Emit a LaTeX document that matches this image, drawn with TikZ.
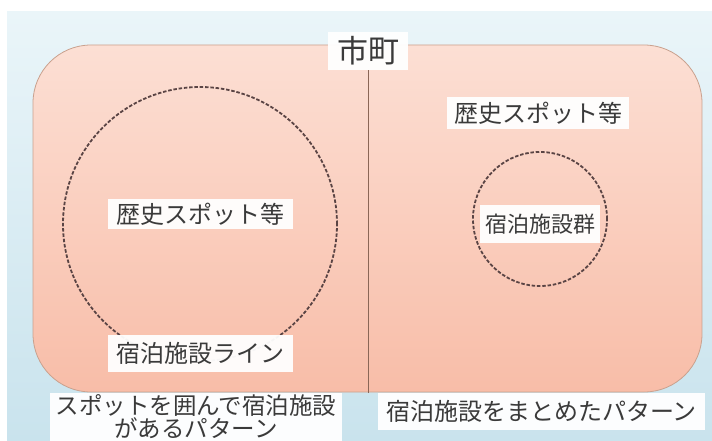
\documentclass[tikz,border=0pt]{standalone}
\usepackage{fontspec}
\newfontfamily\jp{Noto Sans CJK JP}
\definecolor{bgtop}{HTML}{EAF5F9}
\definecolor{bgbot}{HTML}{C9E3ED}
\definecolor{pinktop}{HTML}{FCDFD4}
\definecolor{pinkbot}{HTML}{F8BDA8}
\definecolor{bordercol}{HTML}{C9A18E}
\definecolor{linecol}{HTML}{8A6656}
\definecolor{dashcol}{HTML}{5A4444}
\definecolor{txt}{HTML}{3A3A3A}
\begin{document}
\begin{tikzpicture}[x=1pt,y=-1pt,
  lbl/.style={fill=white, fill opacity=0.95, text opacity=1, inner sep=0pt, text=txt, font=\jp\fontsize{24}{26}\selectfont},
  dashring/.style={draw=dashcol, circle, line width=1.8pt, dash pattern=on 3.5pt off 1.8pt, inner sep=0pt}]
\useasboundingbox (0,0) rectangle (712,441);
\fill[white] (0,0) rectangle (712,441);
\shade[top color=bgtop, bottom color=bgbot] (7,12) rectangle (712,441);
\shade[top color=pinktop, bottom color=pinkbot, draw=bordercol, line width=0.8pt, rounded corners=58pt] (33,45) rectangle (702,392);
% title and divider
\node[lbl, minimum width=80pt, minimum height=38pt, font=\jp\fontsize{31}{33}\selectfont] (title) at (368,51) {市町};
\coordinate (lineend) at (368,393);
\draw[linecol, line width=0.7pt] (title.south) -- (lineend);
% left pattern
\node[dashring, minimum size=274pt] (bigring) at (200,224) {};
\node[lbl, minimum width=185pt, minimum height=30pt] (spotL) at (200,214) {歴史スポット等};
\node[lbl, minimum width=185pt, minimum height=37pt] (lineL) at (200,353) {宿泊施設ライン};
% right pattern
\node[lbl, minimum width=182pt, minimum height=32pt] (spotR) at (538,113) {歴史スポット等};
\node[dashring, minimum size=134pt] (smallring) at (540,219) {};
\node[lbl, minimum width=120pt, minimum height=38pt, font=\jp\fontsize{22}{24}\selectfont] (groupR) at (540,224) {宿泊施設群};
% captions
\node[lbl, minimum width=292pt, minimum height=48pt, align=center, font=\jp\fontsize{23.5}{23}\selectfont] (capL) at (196,417) {スポットを囲んで宿泊施設\\があるパターン};
\node[lbl, minimum width=327pt, minimum height=37pt] (capR) at (541.5,411.5) {宿泊施設をまとめたパターン};
\end{tikzpicture}
\end{document}
